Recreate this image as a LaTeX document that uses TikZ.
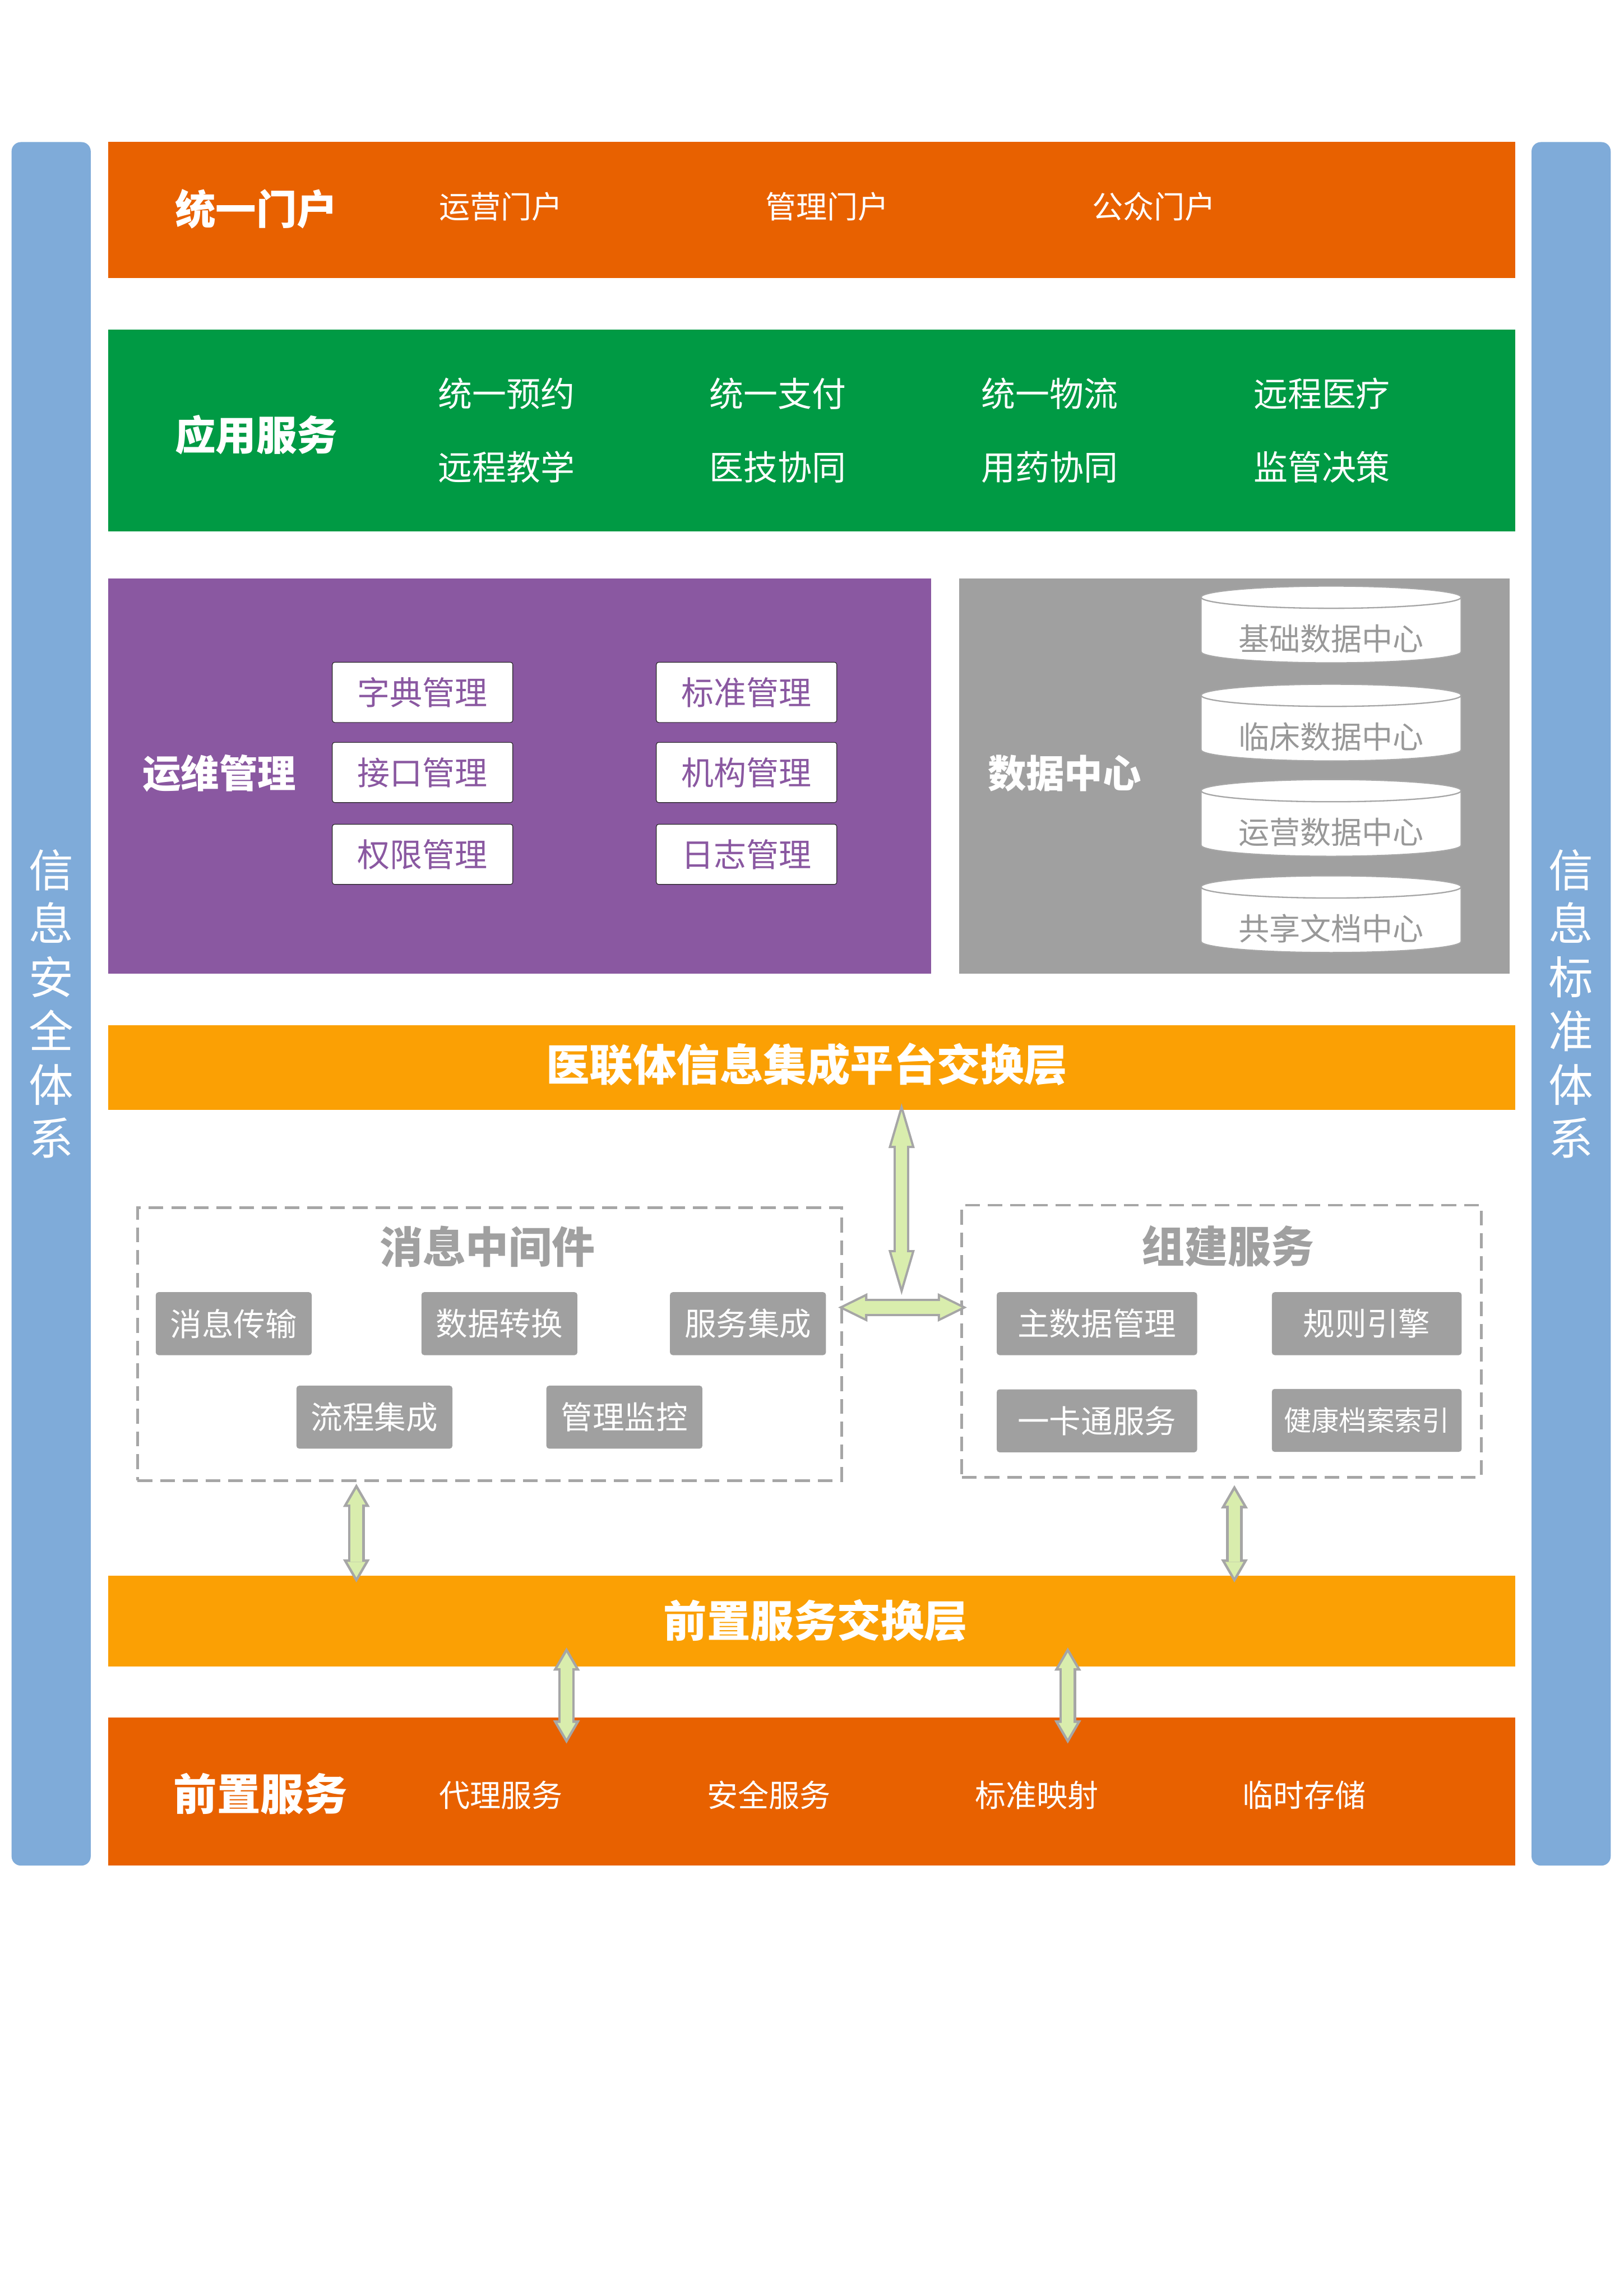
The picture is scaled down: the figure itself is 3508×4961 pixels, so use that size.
\documentclass[tikz,border=0pt]{standalone}
\usepackage{fontspec}
\setmainfont{Noto Sans CJK SC}
\usepackage{tikz}
\usetikzlibrary{arrows.meta,shapes.geometric}
\definecolor{portalorange}{HTML}{E86100}
\definecolor{appgreen}{HTML}{009A44}
\definecolor{opspurple}{HTML}{8A58A1}
\definecolor{datagray}{HTML}{A0A0A0}
\definecolor{barorange}{HTML}{FBA004}
\definecolor{sideblue}{HTML}{7FABD9}
\definecolor{arrowgreen}{HTML}{D9EDAD}
\definecolor{linegray}{HTML}{A6A6A6}

\begin{document}
\begin{tikzpicture}[x=0.1mm,y=-0.1mm,
band/.style={fill=#1,inner sep=0pt,minimum width=304mm},
side/.style={fill=sideblue,rounded corners=2mm,inner sep=0pt,minimum width=17.1mm,minimum height=372.4mm,text=white,align=center,font=\fontsize{27.5}{33}\selectfont},
ttl/.style={text=white,font=\bfseries\fontsize{25}{30}\selectfont},
bigttl/.style={text=white,font=\bfseries\fontsize{26.7}{32}\selectfont},
itm/.style={text=white,font=\fontsize{19}{23}\selectfont},
appitm/.style={text=white,font=\fontsize{21}{25}\selectfont},
mgbox/.style={draw=black!85,line width=0.4pt,fill=white,rounded corners=0.5mm,inner sep=0pt,minimum width=39mm,minimum height=13mm,text=opspurple,font=\fontsize{20}{24}\selectfont},
dbcyl/.style={cylinder,shape border rotate=90,aspect=0.12,draw=linegray,line width=0.8pt,fill=white,inner sep=0pt,minimum width=56.2mm,minimum height=16.6mm,text height=25pt,text depth=0pt,text=datagray!95!black,font=\fontsize{19}{22}\selectfont},
dashbox/.style={draw=linegray,line width=0.6mm,dash pattern=on 3.2mm off 1.7mm,inner sep=0pt},
grayttl/.style={text=datagray,font=\bfseries\fontsize{26.5}{32}\selectfont},
gbox/.style={fill=datagray,rounded corners=0.6mm,inner sep=0pt,minimum height=13.6mm,text=white,font=\fontsize{19.5}{23}\selectfont},
arrout/.style n args={3}{draw=linegray,line width=#1mm,{Triangle[length=#3mm,width=#2mm,line width=0pt]}-{Triangle[length=#3mm,width=#2mm,line width=0pt]}},
arrin/.style n args={4}{draw=arrowgreen,line width=#1mm,shorten <=#4mm,shorten >=#4mm,{Triangle[length=#3mm,width=#2mm,line width=0pt]}-{Triangle[length=#3mm,width=#2mm,line width=0pt]}}]
\useasboundingbox[fill=white](0,0)rectangle(3508,4961);

\node[side](secl)at(110.5,2169){信\\息\\安\\全\\体\\系};
\node[side](secr)at(3394.5,2169){信\\息\\标\\准\\体\\系};

\node[band=portalorange,minimum height=29.4mm](portal)at(1754,454){};
\node[ttl](portalt)at(554,452){统一门户};
\node[itm](p1)at(1082,446){运营门户};
\node[itm](p2)at(1787,446){管理门户};
\node[itm](p3)at(2493,446){公众门户};

\node[band=appgreen,minimum height=43.6mm](app)at(1754,930){};
\node[ttl](appt)at(554,940){应用服务};
\node[appitm](a1)at(1094,851){统一预约};
\node[appitm](a2)at(1680,851){统一支付};
\node[appitm](a3)at(2268,851){统一物流};
\node[appitm](a4)at(2856,851){远程医疗};
\node[appitm](a5)at(1094,1009){远程教学};
\node[appitm](a6)at(1680,1009){医技协同};
\node[appitm](a7)at(2268,1009){用药协同};
\node[appitm](a8)at(2856,1009){监管决策};

\node[fill=opspurple,inner sep=0pt,minimum width=177.8mm,minimum height=85.4mm](ops)at(1123,1677){};
\node[ttl,font=\bfseries\fontsize{23.6}{28}\selectfont](opst)at(474,1671){运维管理};
\node[mgbox](m1)at(913,1496){字典管理};
\node[mgbox](m2)at(913,1669){接口管理};
\node[mgbox](m3)at(913,1846){权限管理};
\node[mgbox](m4)at(1613,1496){标准管理};
\node[mgbox](m5)at(1613,1669){机构管理};
\node[mgbox](m6)at(1613,1846){日志管理};

\node[fill=datagray,inner sep=0pt,minimum width=119mm,minimum height=85.4mm](data)at(2667,1677){};
\node[ttl,font=\bfseries\fontsize{23.6}{28}\selectfont](datat)at(2300,1671){数据中心};
\node[dbcyl](d1)at(2876,1362){基础数据中心};
\node[dbcyl](d2)at(2876,1574){临床数据中心};
\node[dbcyl](d3)at(2876,1780){运营数据中心};
\node[dbcyl](d4)at(2876,1988){共享文档中心};

\node[band=barorange,minimum height=18.3mm](exch)at(1754,2306.5){};
\node[bigttl](excht)at(1743,2300){医联体信息集成平台交换层};

\node[dashbox,minimum width=152.2mm,minimum height=58.9mm](msg)at(1058,2904.5){};
\node[grayttl](msgt)at(1053,2694){消息中间件};
\node[gbox,minimum width=33.7mm](g1)at(505,2860){消息传输};
\node[gbox,minimum width=33.7mm](g2)at(1079,2860){数据转换};
\node[gbox,minimum width=33.7mm](g3)at(1616,2860){服务集成};
\node[gbox,minimum width=33.7mm](g4)at(809,3062){流程集成};
\node[gbox,minimum width=33.7mm](g5)at(1349,3062){管理监控};

\node[dashbox,minimum width=112.2mm,minimum height=58.8mm](build)at(2639,2898){};
\node[grayttl](buildt)at(2653,2692){组建服务};
\node[gbox,minimum width=43.3mm](b1)at(2370,2860){主数据管理};
\node[gbox,minimum width=41mm](b2)at(2953,2860){规则引擎};
\node[gbox,minimum width=43.3mm](b3)at(2370,3070){一卡通服务};
\node[gbox,minimum width=41mm,font=\fontsize{17}{20}\selectfont](b4)at(2953,3069){健康档案索引};

\node[band=barorange,minimum height=19.7mm](frontx)at(1754,3502.5){};
\node[bigttl](frontxt)at(1762,3502){前置服务交换层};

\node[band=portalorange,minimum height=32mm](front)at(1754,3871){};
\node[bigttl](frontt)at(563,3876){前置服务};
\node[itm](f1)at(1082,3879){代理服务};
\node[itm](f2)at(1661,3879){安全服务};
\node[itm](f3)at(2240,3879){标准映射};
\node[itm](f4)at(2818,3879){临时存储};

\coordinate(hubv)at(1948,2798);
\coordinate(hubh)at(1948,2825);
\draw[arrout={3.4}{5.7}{9.7}]([yshift=1.5mm]exch.south-|hubv)--(hubv);
\draw[arrin={2.4}{4.37}{7.43}{1.77}]([yshift=1.5mm]exch.south-|hubv)--(hubv);
\draw[arrout={3.7}{6.2}{6.3}]([xshift=-1.1mm]msg.east|-hubh)--([xshift=1.4mm]build.west|-hubh);
\draw[arrin={2.7}{4.6}{4.67}{1.13}]([xshift=-1.1mm]msg.east|-hubh)--([xshift=1.4mm]build.west|-hubh);

\coordinate(c1)at(770,0);
\coordinate(c2)at(2667,0);
\coordinate(c3)at(1224,0);
\coordinate(c4)at(2307,0);
\draw[arrout={3.6}{5.8}{5}]([yshift=-0.4mm]msg.south-|c1)--([yshift=-1.6mm]frontx.north-|c1);
\draw[arrin={2.5}{3.9}{3.35}{1.1}]([yshift=-0.4mm]msg.south-|c1)--([yshift=-1.6mm]frontx.north-|c1);
\draw[arrout={3.6}{5.8}{5}]([yshift=-1.4mm]build.south-|c2)--([yshift=-1.6mm]frontx.north-|c2);
\draw[arrin={2.5}{3.9}{3.35}{1.1}]([yshift=-1.4mm]build.south-|c2)--([yshift=-1.6mm]frontx.north-|c2);
\draw[arrout={3.6}{5.8}{5}]([yshift=4.2mm]frontx.south-|c3)--([yshift=-5.7mm]front.north-|c3);
\draw[arrin={2.5}{3.9}{3.35}{1.1}]([yshift=4.2mm]frontx.south-|c3)--([yshift=-5.7mm]front.north-|c3);
\draw[arrout={3.6}{5.8}{5}]([yshift=4.2mm]frontx.south-|c4)--([yshift=-5.7mm]front.north-|c4);
\draw[arrin={2.5}{3.9}{3.35}{1.1}]([yshift=4.2mm]frontx.south-|c4)--([yshift=-5.7mm]front.north-|c4);
\end{tikzpicture}
\end{document}
